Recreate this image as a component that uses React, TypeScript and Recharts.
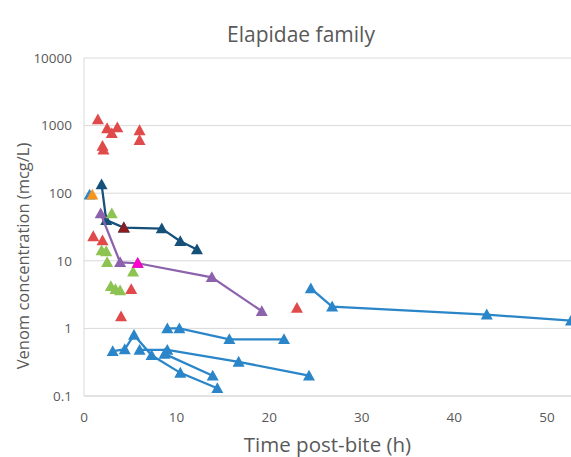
import { ScatterChart, Scatter, XAxis, YAxis, CartesianGrid } from "recharts";

type Pt = { x: number; y: number };
const pts = (rows: number[][]): Pt[] => rows.map(([x, y]) => ({ x, y }));

const xTicks = [0, 10, 20, 30, 40, 50];
const yTicks = [0.1, 1, 10, 100, 1000, 10000];

// connected profiles (light blue)
const blueA = pts([[3.1, 0.46], [4.4, 0.49], [5.4, 0.8], [7.3, 0.4], [10.4, 0.22], [14.4, 0.13]]);
const blueB = pts([[6.0, 0.48], [9.0, 0.48], [16.7, 0.32], [24.3, 0.2]]);
const blueC = pts([[8.7, 0.42], [13.9, 0.2]]);
const blueD = pts([[9.0, 1.0], [10.3, 1.0], [15.7, 0.69], [21.6, 0.69]]);
const blueE = pts([[24.5, 3.9], [26.8, 2.1], [43.5, 1.6], [52.6, 1.3]]);
const blueSingle = pts([[0.6, 95]]);

const navy = pts([[1.9, 135], [2.4, 40], [4.3, 31], [8.4, 30], [10.4, 19.5], [12.2, 14.7]]);
const purple = pts([[1.8, 50], [3.9, 9.5], [5.8, 9.2], [13.8, 5.7], [19.2, 1.8]]);

// single samples
const red = pts([
  [1.5, 1230], [2.5, 910], [3.0, 770], [3.6, 940], [6.0, 850], [6.0, 610],
  [2.0, 500], [2.1, 440], [1.0, 23], [2.0, 20], [5.1, 3.8], [4.0, 1.5], [23.0, 2.0],
]);
const green = pts([
  [3.0, 50], [1.9, 14.2], [2.4, 13.8], [2.5, 9.5], [5.3, 6.9], [2.9, 4.2], [3.4, 3.8], [3.9, 3.65],
]);
const orange = pts([[0.9, 95]]);
const darkRed = pts([[4.3, 31]]);
const magenta = pts([[5.8, 9.3]]);

const BLUE = "#2a86c8";
const NAVY = "#15507a";
const PURPLE = "#8c62ad";
const RED = "#e04a4b";
const GREEN = "#8dc350";
const ORANGE = "#f7941e";
const DARKRED = "#8b1c1f";
const MAGENTA = "#ff00cc";

const tickStyle = { fontSize: 13.5, fill: "#595959", fontFamily: "Open Sans" };

function tri(color: string) {
  return (props: any) => {
    const { cx, cy } = props;
    if (cx == null || cy == null) return <g />;
    return (
      <polygon
        points={`${cx},${cy - 6} ${cx + 6},${cy + 4.8} ${cx - 6},${cy + 4.8}`}
        fill={color}
      />
    );
  };
}

export default function App() {
  const lines: [Pt[], string][] = [
    [blueA, BLUE],
    [blueB, BLUE],
    [blueC, BLUE],
    [blueD, BLUE],
    [blueE, BLUE],
    [navy, NAVY],
    [purple, PURPLE],
  ];
  const dots: [Pt[], string][] = [
    [red, RED],
    [green, GREEN],
    [blueSingle, BLUE],
    [orange, ORANGE],
    [darkRed, DARKRED],
    [magenta, MAGENTA],
  ];
  return (
    <div style={{ position: "absolute", left: 0, top: 0, width: 571, height: 457, background: "#fff", fontFamily: "Open Sans" }}>
      <div
        style={{
          position: "absolute",
          left: 0,
          width: 602,
          top: 20,
          textAlign: "center",
          fontSize: 21,
          color: "#595959",
        }}
      >
        Elapidae family
      </div>
      <ScatterChart width={571} height={457} margin={{ top: 58, right: 0, bottom: 0, left: 0 }}>
        <CartesianGrid vertical={false} stroke="#d9d9d9" strokeWidth={1} />
        <XAxis
          type="number"
          dataKey="x"
          domain={[0, 52.6]}
          ticks={xTicks}
          allowDataOverflow
          height={61}
          tickSize={0}
          tickMargin={16}
          tick={tickStyle}
          axisLine={{ stroke: "#d9d9d9" }}
          label={{
            value: "Time post-bite (h)",
            position: "insideBottom",
            offset: 5,
            fontSize: 20.5,
            fill: "#595959",
          }}
        />
        <YAxis
          type="number"
          dataKey="y"
          scale="log"
          domain={[0.1, 10000]}
          ticks={yTicks}
          allowDataOverflow
          width={84}
          tickSize={0}
          tickMargin={12}
          tick={tickStyle}
          axisLine={{ stroke: "#d9d9d9" }}
          label={{
            content: () => (
              <text
                x={22}
                y={256}
                transform="rotate(-90 22 256)"
                textAnchor="middle"
                dominantBaseline="central"
                fontSize={16.5}
                fill="#595959"
                fontFamily="Open Sans"
              >
                Venom concentration (mcg/L)
              </text>
            ),
          }}
        />
        {lines.map(([d, c], i) => (
          <Scatter
            key={"l" + i}
            data={d}
            fill={c}
            line={{ stroke: c, strokeWidth: 2.25 }}
            lineType="joint"
            shape={tri(c)}
            isAnimationActive={false}
          />
        ))}
        {dots.map(([d, c], i) => (
          <Scatter key={"d" + i} data={d} fill={c} shape={tri(c)} isAnimationActive={false} />
        ))}
      </ScatterChart>
    </div>
  );
}
